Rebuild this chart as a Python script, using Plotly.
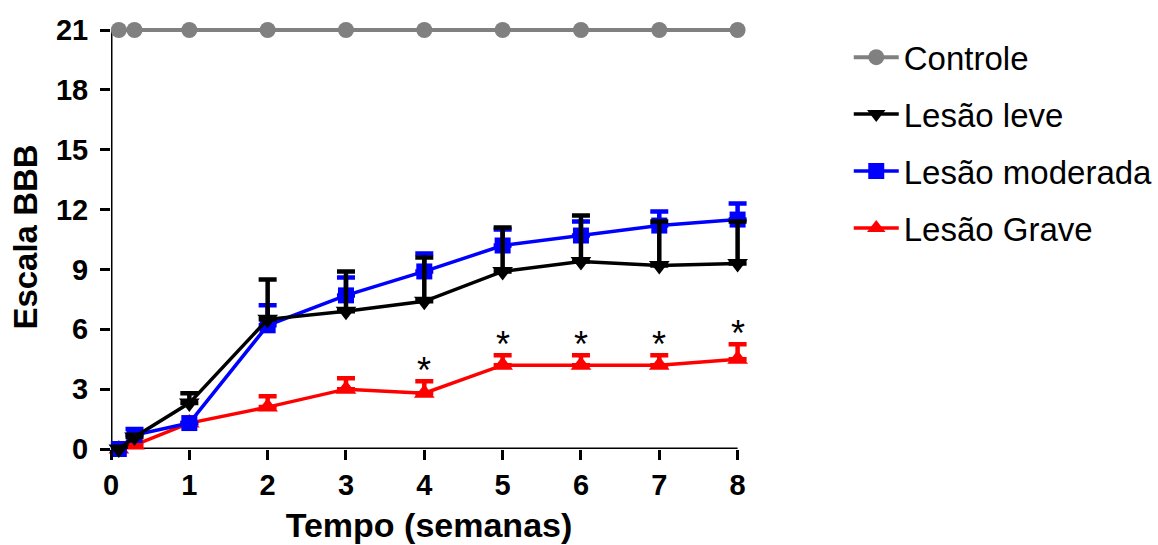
import plotly.graph_objects as go

# Weeks after injury (first two points are the early post-op assessments)
semanas = [0.1, 0.3, 1, 2, 3, 4, 5, 6, 7, 8]

controle = [21, 21, 21, 21, 21, 21, 21, 21, 21, 21]

leve = [0.0, 0.6, 2.3, 6.5, 6.9, 7.4, 8.9, 9.4, 9.2, 9.3]
leve_err = [0.0, 0.0, 0.5, 2.0, 2.0, 2.2, 2.2, 2.3, 2.2, 2.1]

moderada = [0.0, 0.7, 1.3, 6.2, 7.7, 8.9, 10.2, 10.7, 11.2, 11.5]
moderada_err = [0.0, 0.3, 0.0, 1.0, 0.9, 0.9, 0.8, 0.7, 0.7, 0.8]

grave = [0.0, 0.2, 1.3, 2.1, 3.0, 2.8, 4.2, 4.2, 4.2, 4.5]
grave_err = [0.0, 0.0, 0.0, 0.55, 0.55, 0.6, 0.5, 0.5, 0.5, 0.75]

# Weeks with significant difference (Lesão Grave)
signif = [4, 5, 6, 7, 8]

x_ticks = [0, 1, 2, 3, 4, 5, 6, 7, 8]
y_ticks = [0, 3, 6, 9, 12, 15, 18, 21]

X_MAX, Y_MAX = 8, 21

FONT = "Liberation Sans, Arial, sans-serif"

fig = go.Figure()


def err(vals, color):
    return dict(type="data", symmetric=False, array=vals,
                arrayminus=[0] * len(vals), color=color,
                thickness=4.5, width=9)


fig.add_trace(go.Scatter(
    x=semanas, y=controle, name="Controle", mode="lines+markers",
    line=dict(color="#808080", width=4),
    marker=dict(symbol="circle", size=16, color="#808080"),
    cliponaxis=False, legendrank=1, legendgroup="a"))

fig.add_trace(go.Scatter(
    x=semanas, y=grave, name="Lesão Grave", mode="lines+markers",
    line=dict(color="#FF0000", width=3.5),
    marker=dict(symbol="triangle-up", size=18, color="#FF0000"),
    error_y=err(grave_err, "#FF0000"),
    cliponaxis=False, legendrank=4, legendgroup="d"))

fig.add_trace(go.Scatter(
    x=semanas, y=moderada, name="Lesão moderada", mode="lines+markers",
    line=dict(color="#0000FF", width=3.5),
    marker=dict(symbol="square", size=16, color="#0000FF"),
    error_y=err(moderada_err, "#0000FF"),
    cliponaxis=False, legendrank=3, legendgroup="c"))

fig.add_trace(go.Scatter(
    x=semanas, y=leve, name="Lesão leve", mode="lines+markers",
    line=dict(color="#000000", width=3.5),
    marker=dict(symbol="triangle-down", size=18, color="#000000"),
    error_y=err(leve_err, "#000000"),
    cliponaxis=False, legendrank=2, legendgroup="b"))

# Significance marks above the Lesão Grave error bars
for wk in signif:
    i = semanas.index(wk)
    fig.add_annotation(x=wk, y=grave[i] + grave_err[i], text="*",
                       showarrow=False, yanchor="bottom", yshift=-12,
                       font=dict(family=FONT, size=36, color="black"))

# Axis lines drawn from the origin to the last tick
fig.add_shape(type="line", xref="x", yref="y", x0=0, x1=X_MAX, y0=0, y1=0,
              line=dict(color="black", width=3), layer="below")
fig.add_shape(type="line", xref="x", yref="y", x0=0, x1=0, y0=0, y1=Y_MAX,
              line=dict(color="black", width=3), layer="below")

axis_common = dict(
    showline=False,
    ticks="outside", ticklen=10, tickwidth=3, tickcolor="black",
    showgrid=False, zeroline=False,
    tickfont=dict(family=FONT, size=29, color="black", weight="bold"),
)

# A little headroom past the last tick keeps the top line and end caps visible
fig.update_xaxes(range=[0, X_MAX * 1.015], tickvals=x_ticks, **axis_common,
                 title=dict(text="Tempo (semanas)", standoff=13,
                            font=dict(family=FONT, size=34, color="black",
                                      weight="bold")))
fig.update_yaxes(range=[0, Y_MAX * 1.012], tickvals=y_ticks, **axis_common,
                 ticklabelstandoff=6,
                 title=dict(text="Escala BBB", standoff=8,
                            font=dict(family=FONT, size=33, color="black",
                                      weight="bold")))

fig.update_layout(
    width=1158, height=545,
    margin=dict(l=111, r=411, t=25, b=96, autoexpand=False),
    plot_bgcolor="white", paper_bgcolor="white",
    showlegend=True,
    legend=dict(x=1.16, y=0.99, xanchor="left", yanchor="top",
                font=dict(family=FONT, size=33, color="black"),
                itemwidth=45, tracegroupgap=11, bgcolor="rgba(0,0,0,0)",
                traceorder="grouped"),
)

fig.write_html("out.html")
